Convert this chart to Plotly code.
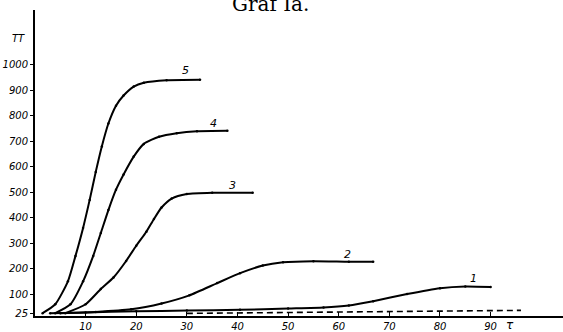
import plotly.graph_objects as go

# Curve data (tau, TT)
c5_t = [1.5, 4, 6.5, 8, 9.5, 10.8, 12, 13.2, 14.5, 16, 17.5, 19.5, 21.5, 26, 32.6]
c5_v = [25, 60, 150, 250, 360, 470, 580, 680, 770, 840, 880, 915, 930, 940, 942]

c4_t = [4, 7, 9.5, 11.5, 13, 14.5, 16, 17.5, 19.5, 21.5, 24.5, 28, 32, 38]
c4_v = [25, 60, 150, 250, 340, 430, 510, 570, 640, 690, 718, 732, 740, 742]

c3_t = [6, 10, 13, 15.5, 18, 20, 22, 23.5, 25, 27, 30, 35, 43]
c3_v = [25, 60, 120, 165, 230, 290, 345, 395, 440, 475, 493, 498, 498]

c2_t = [5, 12, 19, 25, 30.5, 36, 40.5, 45, 49, 55, 62, 66.8]
c2_v = [25, 30, 40, 63, 95, 143, 182, 212, 225, 229, 227, 227]

c1_t = [3, 10, 20, 30, 40.5, 50, 57, 62, 66.8, 73.5, 80, 85, 90]
c1_v = [25, 28, 32, 35, 38, 43, 47, 55, 72, 100, 123, 130, 128]

dash_t = [30, 45, 60, 80, 96]
dash_v = [24, 26, 29, 33, 36]

x_ticks = [10, 20, 30, 40, 50, 60, 70, 80, 90]
y_ticks = [25, 100, 200, 300, 400, 500, 600, 700, 800, 900, 1000]
y_tick_labels = ["25", "100", "200", "300", "400", "500", "600", "700", "800", "900", "1000"]

curve_labels = ["5", "4", "3", "2", "1"]
label_t = [29.8, 35.2, 39.1, 61.7, 86.6]
label_v = [980, 772, 528, 257, 163]

fig = go.Figure()
for t, v in [(c5_t, c5_v), (c4_t, c4_v), (c3_t, c3_v), (c2_t, c2_v), (c1_t, c1_v)]:
    fig.add_trace(go.Scatter(x=t, y=v, mode="lines+markers",
                             line=dict(color="black", width=2, shape="spline", smoothing=0.6),
                             marker=dict(color="black", size=2.5), showlegend=False, hoverinfo="skip"))
fig.add_trace(go.Scatter(x=dash_t, y=dash_v, mode="lines", line=dict(color="black", width=1.6, dash="6px,4px"),
                         showlegend=False, hoverinfo="skip"))

tickfont = dict(family="DejaVu Sans", size=10, color="black", style="italic")

for lab, t, v in zip(curve_labels, label_t, label_v):
    fig.add_annotation(x=t, y=v, text=lab, showarrow=False,
                       font=dict(family="DejaVu Sans", size=11, color="black", style="italic"))

fig.add_annotation(xref="paper", yref="y", x=0, xanchor="center", y=1106, xshift=-17, text="TT", showarrow=False, font=tickfont)
fig.add_annotation(xref="x", yref="paper", x=93.9, y=0, yshift=-18, text="τ", showarrow=False,
                   font=dict(family="DejaVu Sans", size=12, color="black", style="italic"))
fig.add_annotation(xref="paper", yref="paper", x=(270 - 35) / 528, y=1, yanchor="middle", yshift=6, text="Graf Ia.",
                   showarrow=False, font=dict(family="DejaVu Serif", size=20, color="black"))

fig.update_xaxes(range=[0, 104.3], tickvals=x_ticks, ticks="inside", ticklen=4, tickcolor="black", tickwidth=1.2,
                 showline=True, linecolor="black", linewidth=2, showgrid=False, zeroline=False, tickfont=tickfont,
                 automargin=False)
fig.update_yaxes(range=[13.8, 1216], tickvals=y_ticks, ticktext=y_tick_labels, ticks="outside", ticklen=3,
                 tickcolor="black", tickwidth=1.2, showline=True, linecolor="black", linewidth=2, showgrid=False,
                 zeroline=False, tickfont=tickfont, automargin=False)

fig.update_layout(width=563, height=332, margin=dict(l=35, r=0, t=10, b=16), plot_bgcolor="white", paper_bgcolor="white")
fig.write_html("out.html", config={"displayModeBar": False}, post_script="document.body.style.margin='0px';")
